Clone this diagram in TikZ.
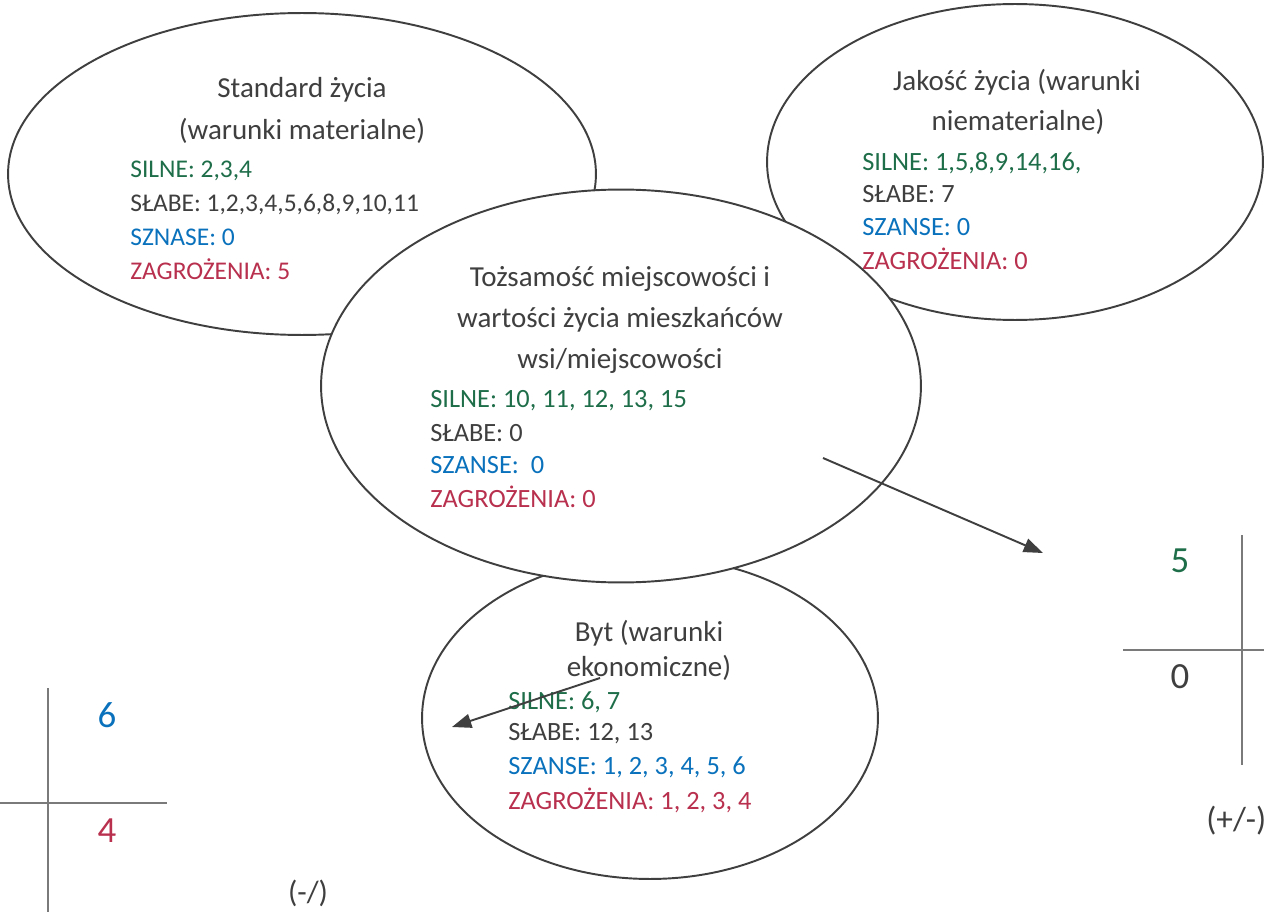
\documentclass[tikz,border=0pt]{standalone}
\usepackage{fontspec}
\setmainfont{Carlito}
\usetikzlibrary{shapes.geometric,arrows.meta}
\definecolor{ink}{HTML}{3F3F3F}
\definecolor{sgreen}{HTML}{1F6E4A}
\definecolor{sblue}{HTML}{0A72BC}
\definecolor{sred}{HTML}{B8304E}
\definecolor{axis}{HTML}{7A7A7A}
\begin{document}
\begin{tikzpicture}[x=0.02cm,y=-0.02cm,
  bubble/.style={ellipse,draw=ink,line width=1.1pt,fill=white,inner sep=0pt},
  ttl/.style={font=\fontsize{16.5}{20}\selectfont,text=ink,anchor=center,inner sep=0pt},
  body/.style={font=\fontsize{15}{18}\selectfont,anchor=west,inner sep=0pt},
  smallbody/.style={font=\fontsize{14.5}{17}\selectfont,anchor=west,inner sep=0pt},
  bignum/.style={font=\fontsize{21}{24}\selectfont,inner sep=0pt},
  sign/.style={font=\fontsize{17.5}{20}\selectfont,text=ink,inner sep=0pt},
  link/.style={draw=ink,line width=1.1pt,-{Triangle[length=11pt,width=8pt]}},
  axisline/.style={draw=axis,line width=1.2pt}]
\useasboundingbox (0,0) rectangle (1264,912);
% bubbles
\node[bubble,minimum width=11.76cm,minimum height=6.44cm] (std) at (302,174) {};
\node[bubble,minimum width=9.92cm,minimum height=6.32cm] (jak) at (1015,162) {};
\node[bubble,minimum width=9.12cm,minimum height=6.44cm] (byt) at (650,718) {};
\node[bubble,minimum width=12cm,minimum height=7.86cm] (toz) at (621,386) {};
% Standard zycia
\node[ttl] (stdT1) at (302,90) {Standard życia};
\node[ttl] (stdT2) at (302,131) {(warunki materialne)};
\node[smallbody,text=sgreen] (stdS) at (130,171) {SILNE: 2,3,4};
\node[smallbody,text=ink] (stdW) at (130,204) {SŁABE: 1,2,3,4,5,6,8,9,10,11};
\node[smallbody,text=sblue] (stdO) at (130,237) {SZNASE: 0};
\node[smallbody,text=sred] (stdZ) at (130,269) {ZAGROŻENIA: 5};
% Jakosc zycia
\node[ttl] (jakT1) at (1017,82) {Jakość życia (warunki};
\node[ttl] (jakT2) at (1018,122) {niematerialne)};
\node[body,text=sgreen] (jakS) at (862,163) {SILNE: 1,5,8,9,14,16,};
\node[body,text=ink] (jakW) at (862,194) {SŁABE: 7};
\node[body,text=sblue] (jakO) at (862,227) {SZANSE: 0};
\node[body,text=sred] (jakZ) at (862,259) {ZAGROŻENIA: 0};
% Tozsamosc
\node[ttl] (tozT1) at (620,279) {Tożsamość miejscowości i};
\node[ttl] (tozT2) at (620,320) {wartości życia mieszkańców};
\node[ttl] (tozT3) at (620,361) {wsi/miejscowości};
\node[body,text=sgreen] (tozS) at (430,401) {SILNE: 10, 11, 12, 13, 15};
\node[body,text=ink] (tozW) at (430,433) {SŁABE: 0};
\node[body,text=sblue] (tozO) at (430,465) {SZANSE:\ \ 0};
\node[body,text=sred] (tozZ) at (430,497) {ZAGROŻENIA: 0};
% Byt
\node[ttl] (bytT1) at (649,633) {Byt (warunki};
\node[ttl] (bytT2) at (649,668) {ekonomiczne)};
\node[body,text=sgreen] (bytS) at (508,702) {SILNE: 6, 7};
\node[body,text=ink] (bytW) at (508,734) {SŁABE: 12, 13};
\node[body,text=sblue] (bytO) at (508,767) {SZANSE: 1, 2, 3, 4, 5, 6};
\node[body,text=sred] (bytZ) at (508,800) {ZAGROŻENIA: 1, 2, 3, 4};
% arrows
\coordinate (a1s) at (823,458);
\coordinate (a1e) at (1043,553);
\coordinate (a2s) at (600,678);
\coordinate (a2e) at (452,727);
\draw[link] (a1s) -- (a1e);
\draw[link] (a2s) -- (a2e);
% left cross
\coordinate (lvT) at (48,688);
\coordinate (lvB) at (48,912);
\coordinate (lhL) at (0,803);
\coordinate (lhR) at (167,803);
\draw[axisline] (lvT) -- (lvB);
\draw[axisline] (lhL) -- (lhR);
\node[bignum,text=sblue] (n6) at (107,715) {6};
\node[bignum,text=sred] (n4) at (107,831) {4};
\node[sign] (mneg) at (308,893) {(-/)};
% right cross
\coordinate (rvT) at (1242,535);
\coordinate (rvB) at (1242,765);
\coordinate (rhL) at (1123,650);
\coordinate (rhR) at (1264,650);
\draw[axisline] (rvT) -- (rvB);
\draw[axisline] (rhL) -- (rhR);
\node[bignum,text=sgreen] (n5) at (1180,561) {5};
\node[bignum,text=ink] (n0) at (1180,677) {0};
\node[sign,font=\fontsize{19}{22}\selectfont,anchor=west] (mpm) at (1206,821) {(+/-)};
\end{tikzpicture}
\end{document}
